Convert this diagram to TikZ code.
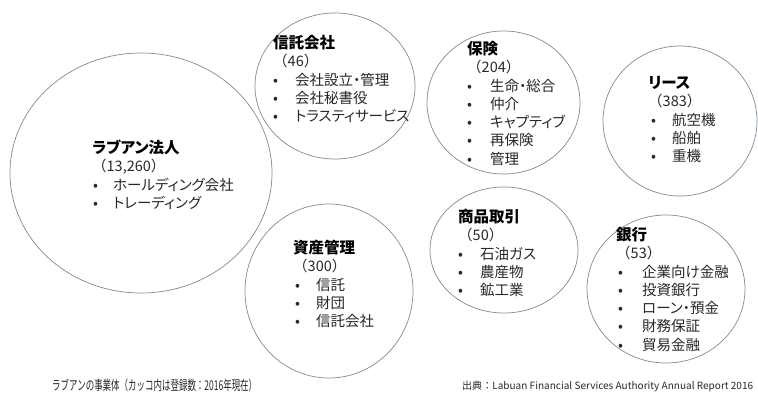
\documentclass[tikz,border=0pt]{standalone}
\usepackage{fontspec}
\setmainfont{Noto Sans CJK JP}[RawFeature=+palt]
\newfontfamily\plainjp{Noto Sans CJK JP}
\usetikzlibrary{shapes.geometric}
\definecolor{ringc}{RGB}{128,138,152}
\definecolor{textc}{RGB}{40,40,40}
\tikzset{
  ring/.style={ellipse, draw=ringc, line width=0.7pt, inner sep=0pt},
  txt/.style={anchor=base west, inner sep=0pt, text=textc, font=\fontsize{14.5}{14.5}\selectfont},
  ttl/.style={anchor=base west, inner sep=0pt, text=black, font=\fontsize{15.5}{15.5}\selectfont\bfseries},
  capt/.style={anchor=base west, inner sep=0pt, text=textc}
}
\newcommand\entity[8]{%
  \node[ttl] (#1-t) at (#2,#5+5.9) {#6};
  \node[txt, font=\fontsize{14.5}{14.5}\plainjp] (#1-n) at (#2,#5+18.3+5.4) {（#7）};
  \foreach \itm [count=\k] in {#8} {
    \node[txt] (#1-b\k) at (#3,#5+18.3*\k+18.3+5.4) {•};
    \node[txt] (#1-i\k) at (#4,#5+18.3*\k+18.3+5.4) {\itm};
  }%
}
\begin{document}
\begin{tikzpicture}[x=1pt,y=-1pt]
\fill[white] (0,0) rectangle (758,394);
\path[use as bounding box] (0,0) rectangle (758,394);
% rings
\node[ring, minimum width=262pt, minimum height=240pt] (labuan) at (141,173) {};
\node[ring, minimum width=160pt, minimum height=146pt] (trust) at (335,86) {};
\node[ring, minimum width=153pt, minimum height=143pt] (ins) at (503.5,102.5) {};
\node[ring, minimum width=154pt, minimum height=150pt] (lease) at (680,121) {};
\node[ring, minimum width=168pt, minimum height=174pt] (asset) at (329,291) {};
\node[ring, minimum width=148pt, minimum height=126pt] (comm) at (504,250) {};
\node[ring, minimum width=158pt, minimum height=148pt] (bank) at (666,289) {};
% texts
\entity{lb}{92}{93}{113}{148}{ラブアン法人}{13,260}{ホールディング会社,トレーディング}
\entity{tr}{273}{273}{295}{43}{信託会社}{46}{会社設立・管理,会社秘書役,トラスティサービス}
\entity{in}{467}{467}{490}{49}{保険}{204}{生命・総合,仲介,キャプティブ,再保険,管理}
\entity{ls}{648}{651}{672}{83}{リース}{383}{航空機,船舶,重機}
\entity{as}{293}{295}{316}{248}{資産管理}{300}{信託,財団,信託会社}
\entity{cm}{458}{458}{480}{217}{商品取引}{50}{石油ガス,農産物,鉱工業}
\entity{bk}{616}{618}{642}{235}{銀行}{53}{企業向け金融,投資銀行,ローン・預金,財務保証,貿易金融}
% captions
\node[capt, font=\fontsize{13.5}{13.5}\plainjp] (capl) at (52,390) {\resizebox{205pt}{\height}{ラブアンの事業体（カッコ内は登録数：2016年現在）}};
\node[capt, font=\fontsize{10}{10}\plainjp] (capr) at (462,389) {\resizebox{291pt}{\height}{出典：Labuan Financial Services Authority Annual Report 2016}};
\end{tikzpicture}
\end{document}
